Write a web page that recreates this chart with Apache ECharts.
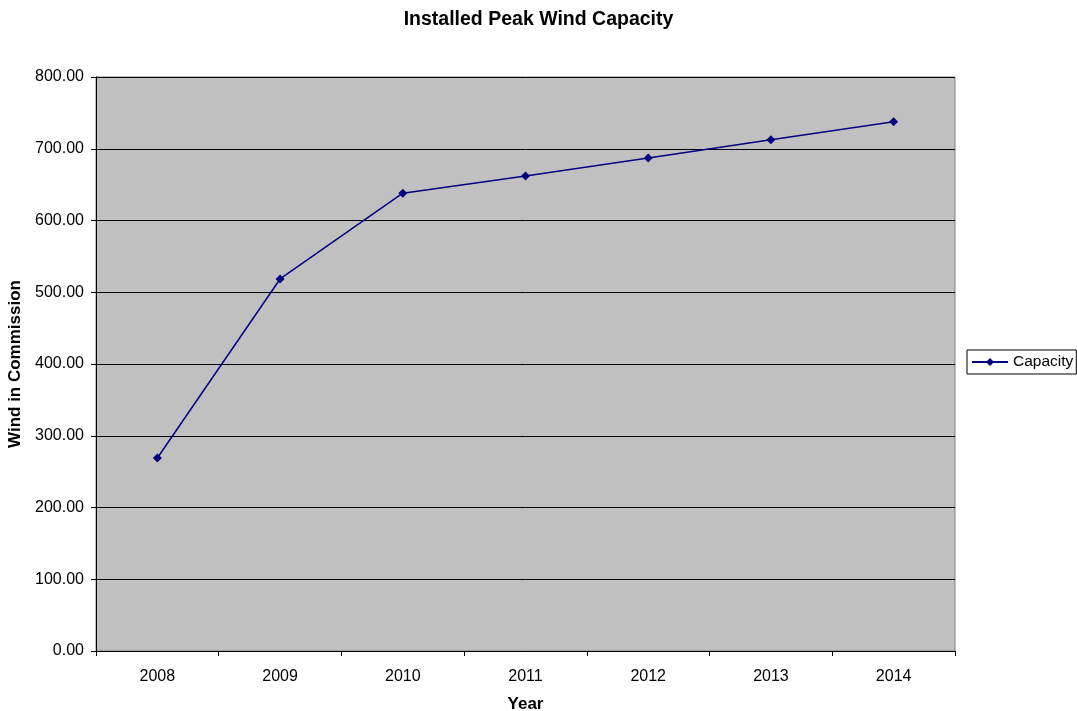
<!DOCTYPE html>
<html lang="en" style="height: 100%">
<head>
	<meta charset="utf-8">
	<title>Installed Peak Wind Capacity</title>
</head>
<body style='height: 100%; margin: 0; background: #fff'>
<div id='container' style='width: 1077px; height: 711px'></div>
<script src="https://cdn.jsdelivr.net/npm/echarts@6/dist/echarts.min.js"></script>
<script type="text/javascript">

	// data
	var years = ['2008', '2009', '2010', '2011', '2012', '2013', '2014'];
	var capacity = [269, 518.5, 638, 662, 687, 712.5, 737.5];

	var font = 'Liberation Sans, Arial, sans-serif';
	var myChart = echarts.init(document.getElementById('container'), null, { renderer: 'canvas' });

	var option = {
		backgroundColor: '#fff',
		animation: false,
		title: {
			text: 'Installed Peak Wind Capacity',
			left: 'center',
			top: 5,
			textStyle: { fontFamily: font, fontSize: 19.5, fontWeight: 'bold', color: '#000' }
		},
		legend: {
			data: ['Capacity'],
			left: 967,
			top: 350,
			orient: 'vertical',
			borderColor: '#000',
			borderWidth: 1,
			borderRadius: 0,
			padding: [4, 3, 4, 4],
			itemWidth: 36,
			itemHeight: 10,
			itemGap: 0,
			textStyle: { fontFamily: font, fontSize: 15.5, color: '#000' }
		},
		grid: {
			left: 96,
			right: 122,
			top: 77,
			bottom: 60,
			outerBoundsMode: 'none',
			containLabel: false,
			show: true,
			backgroundColor: '#c0c0c0',
			borderColor: '#808080',
			borderWidth: 1
		},
		xAxis: {
			type: 'category',
			data: years,
			boundaryGap: true,
			name: 'Year',
			nameLocation: 'middle',
			nameGap: 45,
			nameTextStyle: { fontFamily: font, fontSize: 17, fontWeight: 'bold', color: '#000' },
			axisLine: { lineStyle: { color: '#000', width: 1 } },
			axisTick: { show: true, length: 5, alignWithLabel: false, lineStyle: { color: '#000' } },
			axisLabel: { fontFamily: font, fontSize: 16, color: '#000', margin: 18 },
			splitLine: { show: false }
		},
		yAxis: {
			type: 'value',
			min: 0,
			max: 800,
			interval: 100,
			name: 'Wind in Commission',
			nameLocation: 'middle',
			nameGap: 70,
			nameTextStyle: { fontFamily: font, fontSize: 17, fontWeight: 'bold', color: '#000' },
			axisLine: { show: true, lineStyle: { color: '#000', width: 1 } },
			axisTick: { show: true, length: 5, inside: false, lineStyle: { color: '#000' } },
			axisLabel: {
				fontFamily: font, fontSize: 16, color: '#000', margin: 12,
				formatter: function (v) { return v.toFixed(2); }
			},
			splitLine: { show: true, lineStyle: { color: '#000', width: 1 } }
		},
		series: [
			{
				name: 'Capacity',
				type: 'line',
				data: capacity,
				symbol: 'diamond',
				symbolSize: 9,
				itemStyle: { color: '#000080' },
				lineStyle: { color: '#000080', width: 1.5 }
			}
		]
	};

	myChart.setOption(option);

</script>
</body>
</html>
